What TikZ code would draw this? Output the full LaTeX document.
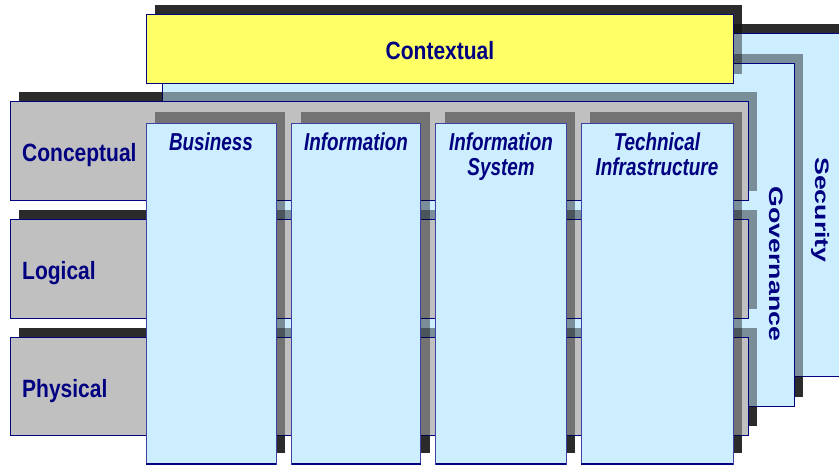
\documentclass[tikz,border=0pt]{standalone}
\usepackage{fontspec}
\setmainfont{Liberation Sans}
\newfontfamily\rowfont[FakeStretch=0.84]{Liberation Sans}
\newfontfamily\colfont[FakeStretch=0.77]{Liberation Sans}
\newfontfamily\sidefont[FakeStretch=1.37]{Liberation Sans}
\definecolor{lb}{HTML}{CCEEFF}
\definecolor{yl}{HTML}{FFFF66}
\definecolor{gr}{HTML}{C0C0C0}
\definecolor{nv}{HTML}{000080}
\definecolor{shd}{HTML}{484848}
\tikzset{
  shadowbase/.style={fill=shd,draw=none},
  shadowsemi/.style={fill=black,fill opacity=0.4,draw=none},
  lbbox/.style={fill=lb,draw=nv,line width=1pt},
  ylbox/.style={fill=yl,draw=nv,line width=1pt},
  grbox/.style={fill=gr,draw=nv,line width=1pt},
  colbox/.style={fill=lb,draw=nv!75,line width=1pt},
  rowlabel/.style={text=nv,inner sep=0pt,anchor=base west,font=\fontsize{25}{30}\rowfont\bfseries},
  ctxlabel/.style={text=nv,inner sep=0pt,anchor=base,font=\fontsize{25}{30}\rowfont\bfseries},
  collabel/.style={text=nv,inner sep=0pt,anchor=base,align=center,font=\fontsize{24.5}{25}\colfont\bfseries\itshape},
  sidelabel/.style={text=nv,inner sep=0pt,anchor=base,rotate=-90,font=\fontsize{19.5}{22}\sidefont\bfseries}
}
\begin{document}
\begin{tikzpicture}[x=1pt,y=-1pt]
\useasboundingbox (0,0) rectangle (839,466);
\clip (0,0) rectangle (839,466);
\fill[white] (0,0) rectangle (839,466);
% ---------- base (solid) shadows over white ----------
\fill[shadowbase] (189,23.5) rectangle (879,366.5);      % security
\fill[shadowbase] (170.5,53.5) rectangle (802.5,396.5);  % governance
\fill[shadowbase] (154.5,4.5) rectangle (741.5,73.5);    % contextual
\foreach \ya/\yb in {101/200,219/318,337/435}
  \fill[shadowbase] (18.5,\ya-9.5) rectangle (756.5,\yb-9.5);
\foreach \xa/\xb in {146/276,291.5/420.5,435.5/566,581/733}
  \fill[shadowbase] (\xa+9,112) rectangle (\xb+9,453);
% ---------- security ----------
\fill[shadowsemi] (189,23.5) rectangle (879,366.5);
\draw[lbbox] (180,33) coordinate (secNW) rectangle (870,376) coordinate (secSE);
% ---------- governance ----------
\fill[shadowsemi] (170.5,53.5) rectangle (802.5,396.5);
\draw[lbbox] (162,63) coordinate (govNW) rectangle (794,406) coordinate (govSE);
% ---------- contextual ----------
\fill[shadowsemi] (154.5,4.5) rectangle (741.5,73.5);
\draw[ylbox] (146,14) coordinate (ctxNW) rectangle (733,83) coordinate (ctxSE);
% ---------- rows ----------
\foreach \ya/\yb in {101/200,219/318,337/435}{
  \fill[shadowsemi] (18.5,\ya-9.5) rectangle (756.5,\yb-9.5);
  \draw[grbox] (10,\ya) rectangle (748,\yb);
}
% ---------- columns ----------
\foreach \xa/\xb in {146/276,291.5/420.5,435.5/566,581/733}{
  \fill[shadowsemi] (\xa+9,112) rectangle (\xb+9,453);
  \draw[colbox] (\xa,123) rectangle (\xb,464);
  \draw[nv,line width=2pt] (\xa,463.5) -- (\xb,463.5);
}
% ---------- labels ----------
\node[ctxlabel] (ctx) at (440,59) {Contextual};
\node[rowlabel] (con) at (22,161) {Conceptual};
\node[rowlabel] (log) at (22,279) {Logical};
\node[rowlabel] (phy) at (22,397) {Physical};
\node[collabel] (bus) at (211,150.7) {Business};
\node[collabel] (inf) at (356,150.7) {Information};
\node[collabel] (ins) at (501,175.7) {Information\\System};
\node[collabel] (tec) at (657,175.7) {Technical\\Infrastructure};
\node[sidelabel] (gov) at (769,264) {Governance};
\node[sidelabel] (sec) at (815,210) {Security};
\end{tikzpicture}
\end{document}
